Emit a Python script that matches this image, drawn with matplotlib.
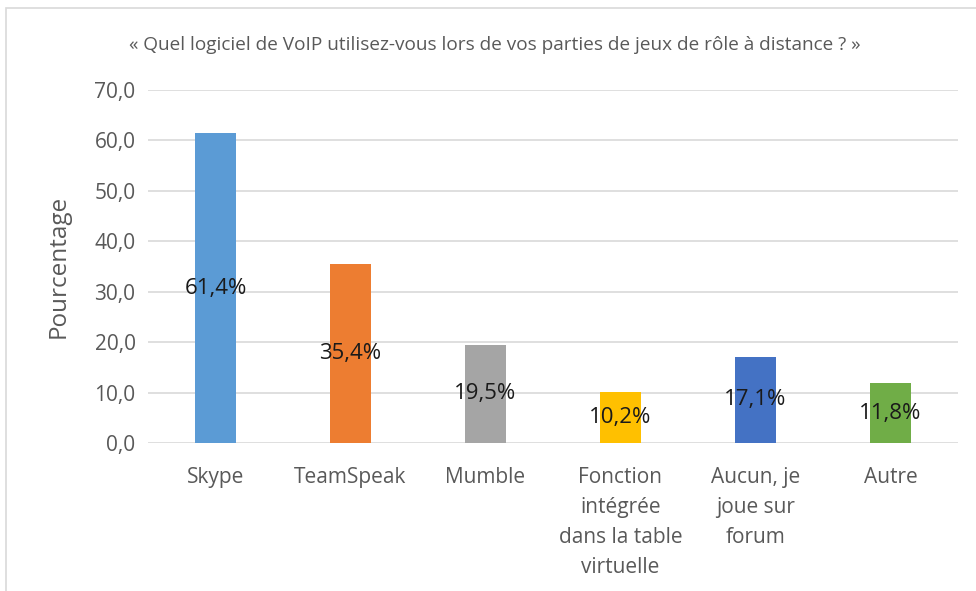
import matplotlib
matplotlib.use("Agg")
import matplotlib.pyplot as plt
from matplotlib.patches import Rectangle

categories = ["Skype", "TeamSpeak", "Mumble",
              "Fonction\nintégrée\ndans la table\nvirtuelle",
              "Aucun, je\njoue sur\nforum", "Autre"]
values = [61.4, 35.4, 19.5, 10.2, 17.1, 11.8]
labels = ["61,4%", "35,4%", "19,5%", "10,2%", "17,1%", "11,8%"]
colors = ["#5B9BD5", "#ED7D31", "#A5A5A5", "#FFC000", "#4472C4", "#70AD47"]
yticks = [0, 10, 20, 30, 40, 50, 60, 70]
ytick_labels = ["0,0", "10,0", "20,0", "30,0", "40,0", "50,0", "60,0", "70,0"]
title = "« Quel logiciel de VoIP utilisez-vous lors de vos parties de jeux de rôle à distance ? »"

plt.rcParams['font.family'] = ['Open Sans', 'DejaVu Sans']
W, H = 976, 591
fig = plt.figure(figsize=(W / 100, H / 100), dpi=100)

# outer frame
fig.patches.append(Rectangle((6 / W, -0.1), 1.2, (H - 8) / H + 0.1,
                             transform=fig.transFigure, fill=False,
                             edgecolor="#D9D9D9", linewidth=1.2))

ax = fig.add_axes([148 / W, 148 / H, 810 / W, 353 / H])
x = list(range(len(categories)))
ax.bar(x, values, width=0.31, color=colors, zorder=2)
ax.set_xlim(-0.5, len(categories) - 0.5)
ax.set_ylim(0, 70)
ax.set_yticks(yticks)
ax.set_yticklabels(ytick_labels)
ax.yaxis.grid(True, color="#D9D9D9", linewidth=1.2, zorder=0)
ax.set_axisbelow(True)
for s in ax.spines.values():
    s.set_visible(False)
ax.tick_params(axis="both", length=0, colors="#595959", labelsize=15)
ax.tick_params(axis="y", pad=9)
ax.set_xticks(x)
ax.set_xticklabels(categories, linespacing=1.58)
ax.tick_params(axis="x", pad=17)

for xi, v, lab in zip(x, values, labels):
    ax.text(xi, v / 2, lab, ha="center", va="center", fontsize=16,
            color="#1a1a1a", zorder=3)

ax.set_ylabel("Pourcentage", fontsize=17.5, color="#595959", labelpad=17)
fig.text(495 / W, 1 - 45 / H, title, ha="center", va="center",
         fontsize=13.7, color="#595959")

fig.savefig("out.png", dpi=100)
